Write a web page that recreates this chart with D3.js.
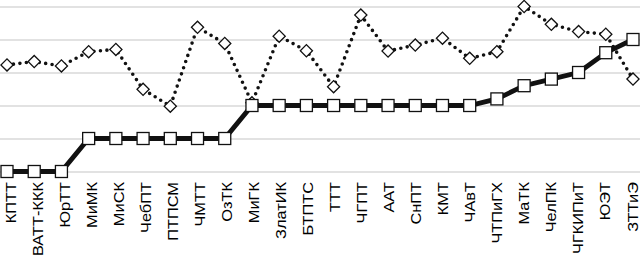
<!DOCTYPE html>
<html>
<head>
<meta charset="utf-8">
<script src="https://cdnjs.cloudflare.com/ajax/libs/d3/7.8.5/d3.min.js"></script>
<style>
body { margin: 0; background: #fff; }
svg { display: block; font-family: "Liberation Sans", Arial, sans-serif; }
</style>
</head>
<body>
<svg id="svg1" width="640" height="260"></svg>
<script>
var categories = ["КПТТ", "ВАТТ-ККК", "ЮрТТ", "МиМК", "МиСК", "ЧебПТ", "ПТПСМ", "ЧМТТ", "ОзТК", "МиГК",
    "ЗлатИК", "БТПТС", "ТТТ", "ЧГПТ", "ААТ", "СнПТ", "КМТ", "ЧАвТ", "ЧТПиГХ", "МаТК",
    "ЧелПК", "ЧГКИПиТ", "ЮЭТ", "ЗТТиЭ"];
var solidValues = [0, 0, 0, 1, 1, 1, 1, 1, 1, 2,
    2, 2, 2, 2, 2, 2, 2, 2, 2.2, 2.6,
    2.8, 3.0, 3.6, 4.0];
var dottedValues = [3.23, 3.33, 3.2, 3.63, 3.7, 2.49, 1.98, 4.37, 3.88, 2.08,
    4.1, 3.66, 2.57, 4.74, 3.65, 3.83, 4.04, 3.43, 3.63, 5.0,
    4.46, 4.24, 4.16, 2.8];
var yTicks = [0, 1, 2, 3, 4, 5];

var width = 640;
var svg = d3.select('#svg1');

var x = d3.scalePoint()
    .domain(categories)
    .range([7, 633]);

// labels sit on a slightly tighter spacing than the points
var xLabel = d3.scalePoint()
    .domain(categories)
    .range([9.5, 631]);

var y = d3.scaleLinear()
    .domain([0, 5])
    .range([171.5, 6.5]);

// gridlines
svg.append('g')
    .attr('class', 'grid')
    .call(d3.axisLeft(y).tickValues(yTicks).tickSize(-width).tickFormat(''))
    .call(function (g) { g.select('.domain').remove(); })
    .call(function (g) {
        g.selectAll('line').attr('stroke', '#d9d9d9').attr('stroke-width', 1.3);
    });

// category labels (text is a bit stretched along its length in the reference)
svg.append('g')
    .attr('transform', 'translate(0,182)')
    .call(d3.axisBottom(xLabel).tickSize(0).tickPadding(0))
    .call(function (g) { g.select('.domain').remove(); })
    .call(function (g) {
        g.selectAll('text')
            .attr('font-size', '14px')
            .attr('fill', '#000')
            .attr('font-family', '"Liberation Sans", Arial, sans-serif')
            .attr('text-anchor', 'end')
            .attr('transform', 'rotate(-90) scale(1.17,1)')
            .attr('x', 0)
            .attr('y', 0)
            .attr('dy', '6px');
    });

var line = d3.line()
    .x(function (d, i) { return x(categories[i]); })
    .y(function (d) { return y(d); });

svg.append('path')
    .datum(dottedValues)
    .attr('d', line)
    .attr('fill', 'none')
    .attr('stroke', '#111')
    .attr('stroke-width', 3.6)
    .attr('stroke-linecap', 'round')
    .attr('stroke-dasharray', '0 6.5');

svg.append('path')
    .datum(solidValues)
    .attr('d', line)
    .attr('fill', 'none')
    .attr('stroke', '#111')
    .attr('stroke-width', 4.8);

// diamonds
svg.selectAll('.diamond')
    .data(dottedValues)
    .enter()
    .append('rect')
    .attr('class', 'diamond')
    .attr('x', -4.3)
    .attr('y', -4.3)
    .attr('width', 8.6)
    .attr('height', 8.6)
    .attr('transform', function (d, i) {
        return 'translate(' + x(categories[i]) + ',' + y(d) + ') rotate(45)';
    })
    .attr('fill', '#fff')
    .attr('stroke', '#111')
    .attr('stroke-width', 1.3);

// squares
svg.selectAll('.square')
    .data(solidValues)
    .enter()
    .append('rect')
    .attr('class', 'square')
    .attr('x', function (d, i) { return x(categories[i]) - 6; })
    .attr('y', function (d) { return y(d) - 6; })
    .attr('width', 12)
    .attr('height', 12)
    .attr('fill', '#fff')
    .attr('stroke', '#111')
    .attr('stroke-width', 1.3);
</script>
</body>
</html>
